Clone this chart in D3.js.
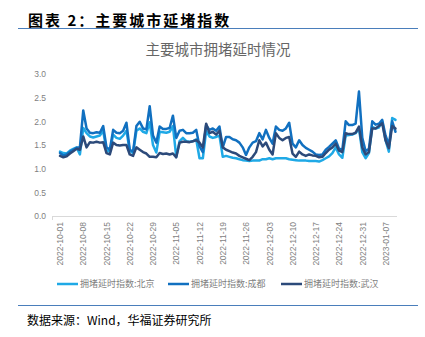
<!DOCTYPE html>
<html>
<head>
<meta charset="utf-8">
<script src="https://cdn.jsdelivr.net/npm/d3@7"></script>
<style>
  html, body { margin: 0; padding: 0; background: #fff; }
  svg { display: block; }
</style>
</head>
<body>
<svg id="chart" width="425" height="337"></svg>
<script>
// Daily congestion-delay index, 2022-10-01 .. 2023-01-10
const startDate = "2022-10-01";
const seriesNames = ["拥堵延时指数:北京", "拥堵延时指数:成都", "拥堵延时指数:武汉"];
const beijing = [
  1.36, 1.33, 1.32, 1.38, 1.42, 1.45, 1.30,
  1.86, 1.75, 1.68, 1.66, 1.68, 1.70, 1.80,
  1.38, 1.36, 1.72, 1.65, 1.63, 1.70, 1.80,
  1.38, 1.33, 1.80, 1.85, 1.78, 1.75, 1.98,
  1.50, 1.34, 1.78, 1.77, 1.76, 1.78, 1.90,
  1.25, 1.58, 1.65, 1.58, 1.57, 1.58, 1.62,
  1.22, 1.22, 1.80, 1.68, 1.65, 1.67, 1.70,
  1.25, 1.27, 1.25, 1.23, 1.22, 1.20, 1.18,
  1.17, 1.16, 1.17, 1.17, 1.17, 1.20, 1.20,
  1.22, 1.20, 1.22, 1.22, 1.22, 1.22, 1.20,
  1.19, 1.18, 1.17, 1.17, 1.17, 1.16, 1.16,
  1.16, 1.15, 1.18, 1.22, 1.26, 1.33, 1.45,
  1.30, 1.23, 1.70, 1.71, 1.72, 1.75, 1.85,
  1.35, 1.22, 1.33, 1.88, 1.85, 1.87, 2.00,
  1.60, 1.36, 2.07, 2.03
];
const chengdu = [
  1.33, 1.28, 1.30, 1.36, 1.40, 1.44, 1.46,
  2.23, 1.85, 1.76, 1.75, 1.77, 1.76, 1.90,
  1.45, 1.40, 1.82, 1.76, 1.75, 1.80, 1.97,
  1.40, 1.36, 1.90, 1.99, 1.85, 1.83, 2.32,
  1.70, 1.55, 1.89, 1.84, 1.84, 1.86, 2.12,
  1.65, 1.80, 1.82, 1.75, 1.75, 1.76, 1.82,
  1.47, 1.35, 1.92, 1.82, 1.85, 1.80, 1.89,
  1.45, 1.67, 1.67, 1.62, 1.60, 1.55, 1.45,
  1.29, 1.45, 1.55, 1.58, 1.75, 1.62, 1.82,
  1.65, 1.53, 1.89, 1.82, 1.80, 1.85, 1.97,
  1.53, 1.45, 1.60, 1.50, 1.44, 1.40, 1.36,
  1.30, 1.29, 1.30, 1.40, 1.46, 1.53, 1.60,
  1.42, 1.40, 2.00, 1.92, 1.92, 1.95, 2.63,
  1.65, 1.37, 1.42, 2.00, 1.93, 1.95, 2.03,
  1.70, 1.50, 2.00, 1.78
];
const wuhan = [
  1.27, 1.24, 1.26, 1.32, 1.37, 1.42, 1.40,
  1.68, 1.45, 1.56, 1.55, 1.57, 1.55, 1.56,
  1.33, 1.30, 1.55, 1.50, 1.49, 1.50, 1.50,
  1.30, 1.27, 1.45, 1.40, 1.35, 1.32, 1.25,
  1.25, 1.24, 1.33, 1.31, 1.32, 1.30, 1.32,
  1.24, 1.55, 1.57, 1.57, 1.56, 1.58, 1.60,
  1.55, 1.45, 1.95, 1.75, 1.78, 1.72, 1.80,
  1.45, 1.40, 1.37, 1.34, 1.32, 1.27, 1.24,
  1.21, 1.18, 1.25, 1.35, 1.60, 1.47, 1.55,
  1.40, 1.30, 1.75, 1.65, 1.60, 1.65, 1.67,
  1.32, 1.25, 1.36, 1.30, 1.27, 1.30, 1.28,
  1.27, 1.24, 1.25, 1.33, 1.40, 1.45, 1.53,
  1.38, 1.35, 1.75, 1.73, 1.73, 1.76, 1.89,
  1.45, 1.30, 1.35, 1.85, 1.85, 1.90, 1.96,
  1.60, 1.43, 1.90, 1.85
];
const yTicks = [0, 0.5, 1.0, 1.5, 2.0, 2.5, 3.0];
const colors = ["#1fa9e6", "#1170c0", "#2c4a7a"];

const parse = d3.utcParse("%Y-%m-%d");
const fmt = d3.utcFormat("%Y-%m-%d");
const start = parse(startDate);
const dates = beijing.map((_, i) => d3.utcDay.offset(start, i));
const tickDates = dates.filter((_, i) => i % 7 === 0);
const seriesValues = [beijing, chengdu, wuhan];

const svg = d3.select("#chart");
const cjk = "'Noto Sans CJK SC', sans-serif";
const latin = "'Liberation Sans', Arial, sans-serif";

// Report header and rules
svg.append("text")
  .attr("x", 28).attr("y", 26)
  .attr("font-family", cjk).attr("font-weight", 700)
  .attr("font-size", 15).attr("fill", "#000")
  .attr("letter-spacing", 2)
  .text("图表 2：主要城市延堵指数");
svg.append("line")
  .attr("x1", 18).attr("x2", 418).attr("y1", 28.5).attr("y2", 28.5)
  .attr("stroke", "#4a7ebb").attr("stroke-width", 1.2);

svg.append("text")
  .attr("x", 218).attr("y", 55)
  .attr("text-anchor", "middle")
  .attr("font-family", cjk).attr("font-size", 14.5)
  .attr("fill", "#666")
  .text("主要城市拥堵延时情况");

// Scales
const x = d3.scalePoint().domain(dates.map(fmt)).range([60, 395.5]);
const y = d3.scaleLinear().domain([0, 3]).range([216, 74]);

// Y axis
const yAxis = svg.append("g")
  .attr("transform", "translate(50,0)")
  .call(d3.axisLeft(y).tickValues(yTicks).tickSize(0).tickPadding(4).tickFormat(d3.format(".1f")));
yAxis.select(".domain").remove();
yAxis.selectAll("text")
  .attr("font-family", latin).attr("font-size", 8.5).attr("fill", "#7f7f7f");

// X axis
const xAxis = svg.append("g")
  .attr("transform", "translate(0,216)")
  .call(d3.axisBottom(x).tickValues(tickDates.map(fmt)).tickSize(0));
xAxis.select(".domain")
  .attr("d", "M52,0.5H397")
  .attr("stroke", "#d9d9d9");
xAxis.selectAll("text")
  .attr("font-family", latin).attr("font-size", 8.5).attr("fill", "#7f7f7f")
  .attr("text-anchor", "end")
  .attr("transform", "rotate(-90)")
  .attr("x", -6).attr("y", 0).attr("dy", "0.32em");
svg.append("line")
  .attr("x1", 52.5).attr("x2", 52.5).attr("y1", 216).attr("y2", 220)
  .attr("stroke", "#d9d9d9");

// Lines
const line = d3.line()
  .x((d, i) => x(fmt(dates[i])))
  .y(d => y(d));
seriesValues.forEach((vals, k) => {
  svg.append("path")
    .datum(vals)
    .attr("fill", "none")
    .attr("stroke", colors[k])
    .attr("stroke-width", 2.5)
    .attr("stroke-linejoin", "round")
    .attr("stroke-linecap", "round")
    .attr("d", line);
});

// Legend
const legendX = [57, 168, 281];
seriesNames.forEach((name, k) => {
  const g = svg.append("g").attr("transform", `translate(${legendX[k]},284)`);
  g.append("line").attr("x1", 0).attr("x2", 21).attr("y1", 0).attr("y2", 0)
    .attr("stroke", colors[k]).attr("stroke-width", 2.5);
  g.append("text").attr("x", 23).attr("y", 3.2)
    .attr("font-family", cjk).attr("font-size", 9).attr("fill", "#7f7f7f")
    .text(name);
});

// Footer rule and source
svg.append("line")
  .attr("x1", 18).attr("x2", 418).attr("y1", 305.5).attr("y2", 305.5)
  .attr("stroke", "#4a7ebb").attr("stroke-width", 1.2);
svg.append("text")
  .attr("x", 27).attr("y", 325)
  .attr("font-family", cjk).attr("font-size", 12).attr("fill", "#000")
  .text("数据来源：Wind，华福证券研究所");
</script>
</body>
</html>
